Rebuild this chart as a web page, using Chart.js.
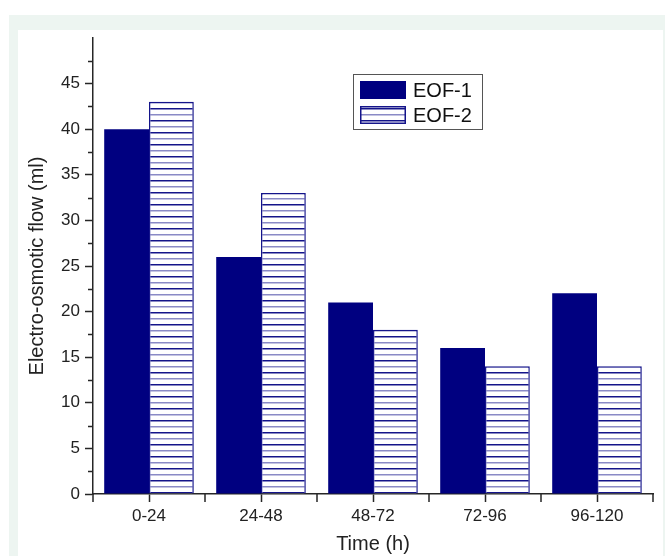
<!DOCTYPE html>
<html>
<head>
<meta charset="utf-8">
<script src="https://cdn.jsdelivr.net/npm/chart.js@4/dist/chart.umd.min.js"></script>
<style>
  html, body { margin: 0; padding: 0; background: #fff; }
  #wrap { position: relative; width: 665px; height: 556px; overflow: hidden; }
  #outer { position: absolute; left: 9px; top: 15px; width: 656px; height: 541px; background: #edf5f1; }
  #inner { position: absolute; left: 18px; top: 30px; width: 645px; height: 526px; background: #fff; }
  #myChart { position: absolute; left: 0; top: 0; }
</style>
</head>
<body>
<div id="wrap">
  <div id="outer"></div>
  <div id="inner"></div>
  <canvas id="myChart" width="665" height="556"></canvas>
</div>
<script>
'use strict'

// data
const categories = ['0-24', '24-48', '48-72', '72-96', '96-120']
const eof1 = [40, 26, 21, 16, 22]
const eof2 = [43, 33, 18, 14, 14]
const seriesNames = ['EOF-1', 'EOF-2']
const yMax = 50
const yStep = 5

const navy = '#000080'
const axisColor = '#262626'
const font = "'Liberation Sans', Arial, sans-serif"

// horizontal stripes used for EOF-2
const makeStripes = () => {
  const c = document.createElement('canvas')
  c.width = 8
  c.height = 12
  const g = c.getContext('2d')
  g.fillStyle = '#ffffff'
  g.fillRect(0, 0, 8, 12)
  g.fillStyle = '#14148a'
  g.fillRect(0, 0, 8, 1.5)
  g.fillStyle = '#8a8ac6'
  g.fillRect(0, 6, 8, 1.5)
  return document.getElementById('myChart').getContext('2d').createPattern(c, 'repeat')
}
const stripes = makeStripes()

// minor ticks on y, boundary ticks on x
const extraTicks = {
  id: 'extraTicks',
  afterDraw(chart) {
    const ctx = chart.ctx
    const x = chart.scales.x
    const y = chart.scales.y
    ctx.save()
    ctx.strokeStyle = axisColor
    ctx.lineWidth = 1.5
    ctx.beginPath()
    for (let v = yStep / 2; v < yMax; v += yStep) {
      const py = Math.round(y.getPixelForValue(v)) + 0.5
      ctx.moveTo(y.right - 5, py)
      ctx.lineTo(y.right, py)
    }
    const half = (x.getPixelForValue(1) - x.getPixelForValue(0)) / 2
    for (let i = 0; i <= categories.length; i++) {
      const px = Math.round(x.getPixelForValue(i) - half)
      ctx.moveTo(px, x.top)
      ctx.lineTo(px, x.top + 8)
    }
    ctx.stroke()
    ctx.restore()
  }
}

// boxed legend inside the plot
const boxLegend = {
  id: 'boxLegend',
  afterDraw(chart) {
    const ctx = chart.ctx
    const area = chart.chartArea
    const left = area.left + 260
    const top = area.top + 36
    ctx.save()
    ctx.strokeStyle = '#555'
    ctx.lineWidth = 1
    ctx.strokeRect(left + 0.5, top + 0.5, 129, 55)
    chart.data.datasets.forEach((ds, i) => {
      const sy = top + 7 + i * 25
      ctx.fillStyle = ds.backgroundColor
      ctx.fillRect(left + 7, sy, 46, 18)
      if (ds.borderWidth) {
        ctx.strokeStyle = ds.borderColor
        ctx.lineWidth = 1.5
        ctx.strokeRect(left + 7.75, sy + 0.75, 44.5, 16.5)
      }
      ctx.fillStyle = '#111'
      ctx.font = '20px ' + font
      ctx.textBaseline = 'middle'
      ctx.fillText(ds.label, left + 60, sy + 10)
    })
    ctx.restore()
  }
}

const ctx = document.getElementById('myChart')

const myChart = new Chart(ctx, {
  type: 'bar',
  data: {
    labels: categories,
    datasets: [{
      label: seriesNames[0],
      data: eof1,
      backgroundColor: navy,
      borderWidth: 0
    }, {
      label: seriesNames[1],
      data: eof2,
      backgroundColor: stripes,
      borderColor: '#14148a',
      borderWidth: 1.5
    }]
  },
  options: {
    responsive: false,
    animation: false,
    layout: { padding: { top: 38, right: 12, left: 0, bottom: 0 } },
    plugins: {
      legend: { display: false },
      tooltip: { enabled: false }
    },
    datasets: {
      bar: { categoryPercentage: 0.8, barPercentage: 1.0 }
    },
    scales: {
      x: {
        offset: true,
        afterFit: (s) => { s.height = 62 },
        grid: { offset: false, drawOnChartArea: false, drawTicks: true, tickLength: 8, tickColor: axisColor, tickWidth: 1.5 },
        border: { color: axisColor, width: 1.5 },
        ticks: { color: '#222', padding: 4, font: { family: font, size: 17 } },
        title: { display: true, text: 'Time (h)', color: '#222', padding: { top: 0, bottom: 0 }, font: { family: font, size: 20 } }
      },
      y: {
        min: 0,
        max: yMax,
        afterFit: (s) => { s.width = 93 },
        grid: {
          drawOnChartArea: false,
          drawTicks: true,
          tickLength: 8,
          tickWidth: 1.5,
          tickColor: (c) => (c.tick && c.tick.value === yMax ? 'rgba(0,0,0,0)' : axisColor)
        },
        border: { color: axisColor, width: 1.5 },
        ticks: {
          stepSize: yStep,
          color: '#222',
          padding: 5,
          font: { family: font, size: 17 },
          callback: (v) => (v === yMax ? '' : v)
        },
        title: { display: true, text: 'Electro-osmotic flow (ml)', color: '#222', padding: { top: 25, bottom: 0 }, font: { family: font, size: 20 } }
      }
    }
  },
  plugins: [extraTicks, boxLegend]
})
</script>
</body>
</html>
